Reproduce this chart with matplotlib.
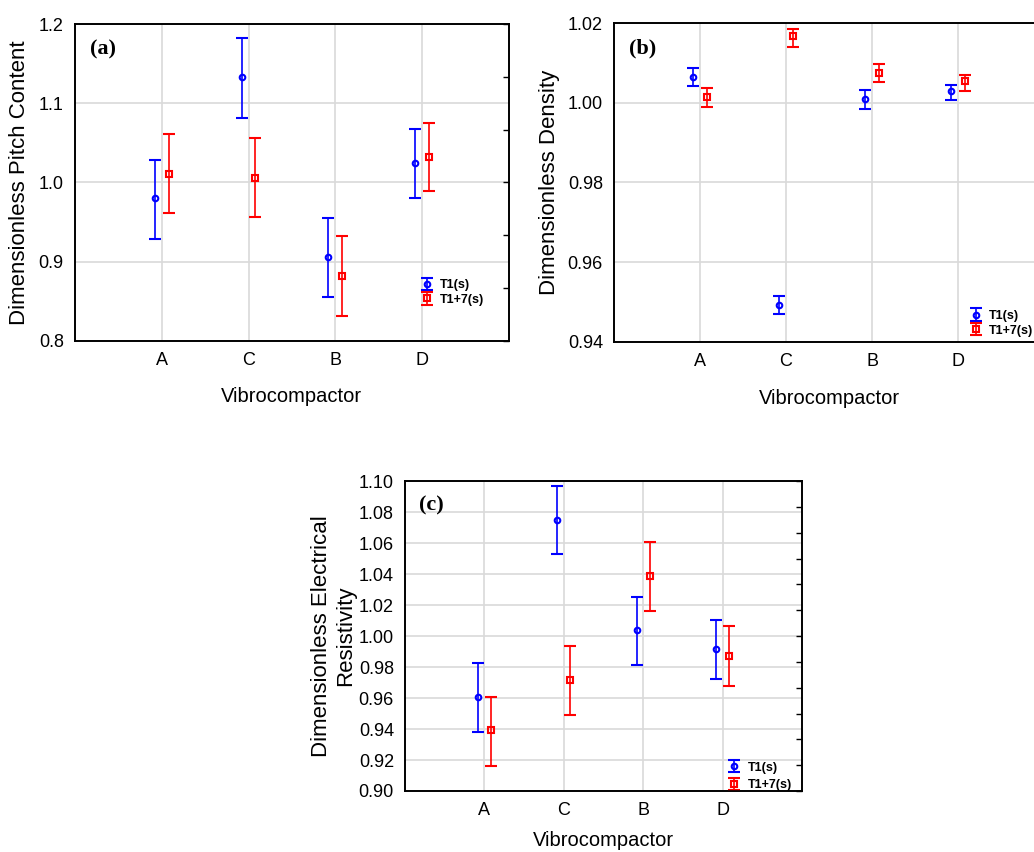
import matplotlib
matplotlib.use("Agg")
import matplotlib.pyplot as plt
import numpy as np

plt.rcParams['font.family'] = ['Liberation Sans', 'DejaVu Sans']

categories = ["A", "C", "B", "D"]
series = ["T1(s)", "T1+7(s)"]

# (a) pitch content
pitch_t1 = [0.980, 1.133, 0.906, 1.024]
pitch_t1_lo = [0.929, 1.082, 0.855, 0.981]
pitch_t1_hi = [1.029, 1.182, 0.955, 1.068]
pitch_t7 = [1.011, 1.006, 0.882, 1.032]
pitch_t7_lo = [0.962, 0.956, 0.832, 0.989]
pitch_t7_hi = [1.061, 1.056, 0.932, 1.075]

# (b) density
dens_t1 = [1.0065, 0.9494, 1.0009, 1.0029]
dens_t1_lo = [1.0042, 0.9471, 0.9985, 1.0006]
dens_t1_hi = [1.0087, 0.9516, 1.0031, 1.0045]
dens_t7 = [1.0014, 1.0167, 1.0075, 1.0055]
dens_t7_lo = [0.9990, 1.0141, 1.0051, 1.0030]
dens_t7_hi = [1.0036, 1.0186, 1.0096, 1.0070]

# (c) electrical resistivity
res_t1 = [0.9609, 1.0751, 1.0037, 0.9916]
res_t1_lo = [0.9383, 1.0529, 0.9811, 0.9723]
res_t1_hi = [0.9824, 1.0968, 1.0252, 1.0103]
res_t7 = [0.9391, 0.9718, 1.0387, 0.9871]
res_t7_lo = [0.9163, 0.9492, 1.0163, 0.9677]
res_t7_hi = [0.9604, 0.9933, 1.0606, 1.0062]


def panel(ax, t1, t1lo, t1hi, t7, t7lo, t7hi, ylim, yticks, yfmt, nright,
          letter, ylabel, legxy, legsp, xlab_y, ylab_x):
    x = np.arange(1, len(categories) + 1)
    e1 = [np.array(t1) - np.array(t1lo), np.array(t1hi) - np.array(t1)]
    e7 = [np.array(t7) - np.array(t7lo), np.array(t7hi) - np.array(t7)]
    h1 = ax.errorbar(x - 0.08, t1, yerr=e1, fmt='o', color='blue', ms=4,
                     mfc='none', mew=1.5, elinewidth=1.2, capsize=4, capthick=1.2)
    h2 = ax.errorbar(x + 0.08, t7, yerr=e7, fmt='s', color='red', ms=4,
                     mfc='none', mew=1.5, elinewidth=1.2, capsize=4, capthick=1.2)
    ax.set_xlim(0, 5)
    ax.set_ylim(*ylim)
    ax.set_xticks(x)
    ax.set_xticklabels(categories, fontsize=13)
    ax.set_yticks(yticks)
    ax.set_yticklabels([yfmt.format(v) for v in yticks], fontsize=13)
    ax.tick_params(length=0, pad=8)
    ax.grid(True, color='#d9d9d9', lw=1.2)
    ax.set_axisbelow(True)
    # short inward ticks on the right spine
    ax2 = ax.twinx()
    ax2.set_ylim(*ylim)
    ax2.set_yticks(np.linspace(ylim[0], ylim[1], nright + 1))
    ax2.tick_params(direction='in', length=4, labelright=False, width=1)
    for a in (ax, ax2):
        for s in a.spines.values():
            s.set_color('black')
            s.set_linewidth(1.2)
    ax.set_xlabel("Vibrocompactor", fontsize=14.5)
    ax.xaxis.set_label_coords(0.5, xlab_y)
    ax.set_ylabel(ylabel, fontsize=16, linespacing=1.25)
    ax.yaxis.set_label_coords(ylab_x, 0.5)
    ax.text(0.035, 0.92, letter, transform=ax.transAxes, fontsize=16,
            fontweight='bold', family='Liberation Serif', va='center', ha='left')
    leg = ax.legend([h1, h2], series, loc='upper left', bbox_to_anchor=legxy,
                    frameon=False, prop={'weight': 'bold', 'size': 9},
                    handlelength=1.5, handletextpad=0.3, labelspacing=legsp,
                    borderpad=0, borderaxespad=0)
    leg.set_zorder(5)


fig = plt.figure(figsize=(10.34, 8.52), dpi=100)
ax_a = fig.add_axes([0.0725, 0.5998, 0.4197, 0.372])
ax_b = fig.add_axes([0.5938, 0.5986, 0.4159, 0.3744])
ax_c = fig.add_axes([0.3917, 0.0716, 0.3839, 0.3638])

panel(ax_a, pitch_t1, pitch_t1_lo, pitch_t1_hi, pitch_t7, pitch_t7_lo, pitch_t7_hi,
      (0.8, 1.2), [0.8, 0.9, 1.0, 1.1, 1.2], "{:.1f}", 6,
      "(a)", "Dimensionless Pitch Content", (0.79, 0.195), 0.2, -0.145, -0.104)
panel(ax_b, dens_t1, dens_t1_lo, dens_t1_hi, dens_t7, dens_t7_lo, dens_t7_hi,
      (0.94, 1.02), [0.94, 0.96, 0.98, 1.00, 1.02], "{:.2f}", 4,
      "(b)", "Dimensionless Density", (0.82, 0.10), 0.2, -0.146, -0.126)
panel(ax_c, res_t1, res_t1_lo, res_t1_hi, res_t7, res_t7_lo, res_t7_hi,
      (0.90, 1.10), list(np.round(np.arange(0.90, 1.101, 0.02), 2)), "{:.2f}", 12,
      "(c)", "Dimensionless Electrical\nResistivity", (0.806, 0.095), 0.45, -0.128, -0.122)

fig.savefig("out.png", dpi=100)
